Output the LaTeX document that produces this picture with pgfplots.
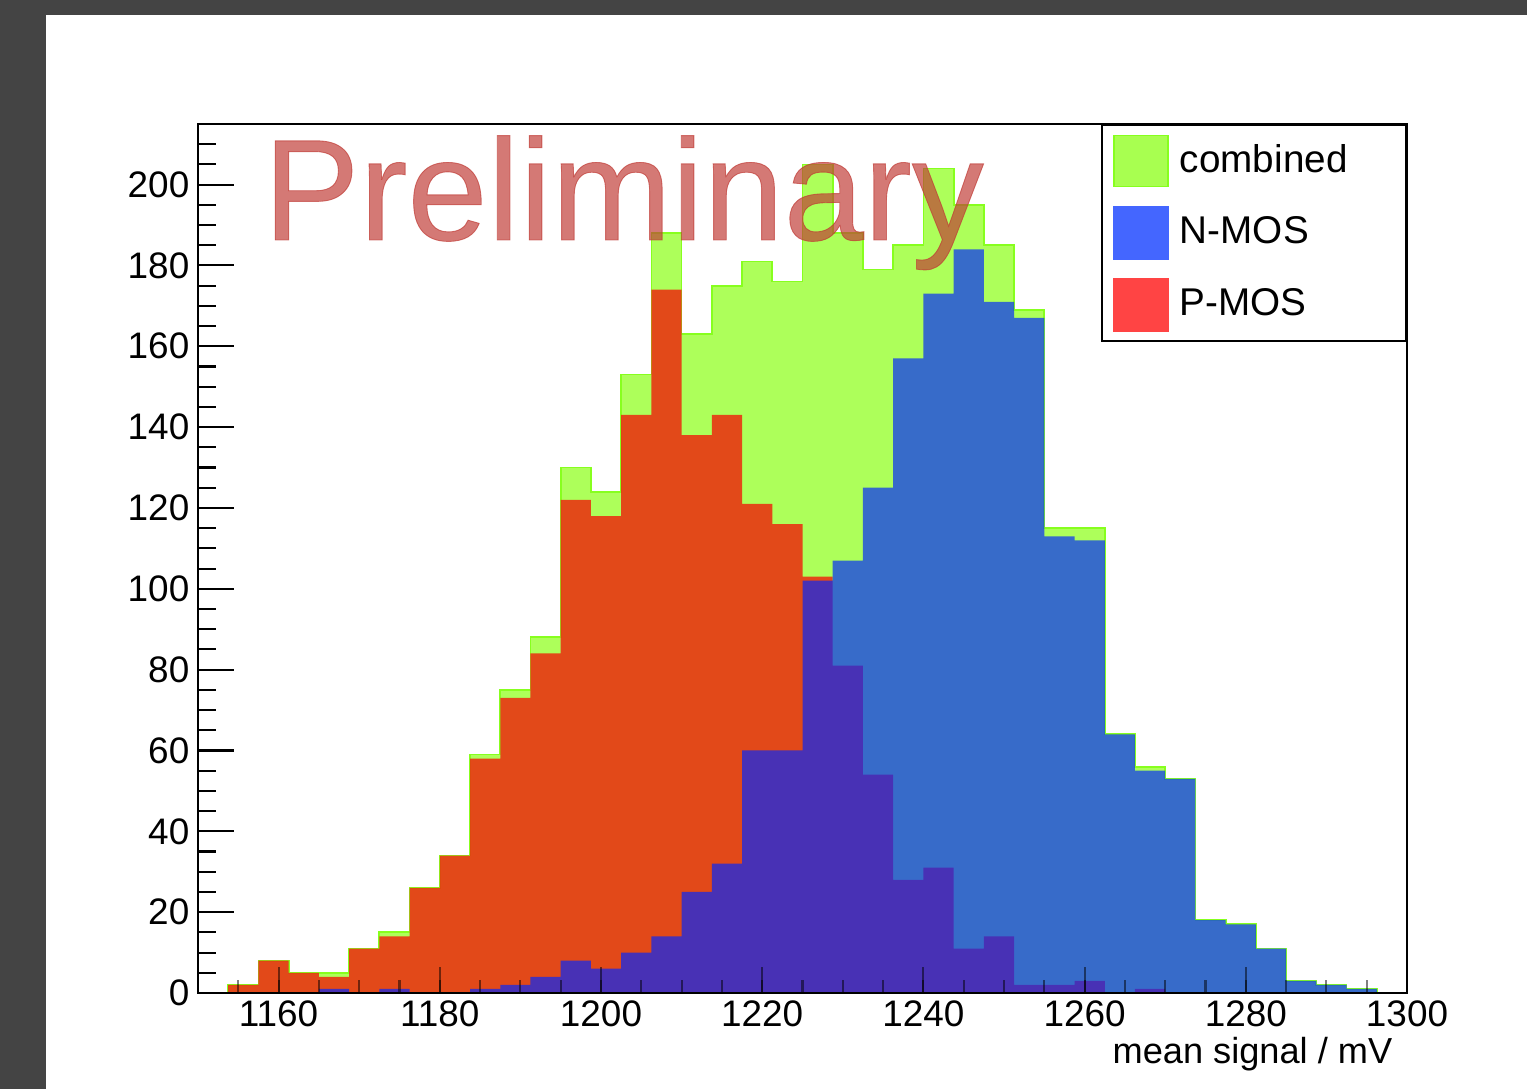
\documentclass[border=0pt]{standalone}
\usepackage{pgfplots}
\pgfplotsset{compat=1.18}
\usepackage{pgfplotstable}
\usepackage{fontspec}
\setmainfont{Liberation Sans}
\newfontfamily\markfont[FakeBold=0.6]{Liberation Sans}

\definecolor{bgdark}{RGB}{68,68,68}
\definecolor{combfill}{RGB}{173,255,90}
\definecolor{combedge}{RGB}{135,255,30}
\definecolor{pfill}{RGB}{236,42,14}
\definecolor{nfill}{RGB}{0,38,255}
\definecolor{legcomb}{RGB}{168,255,80}
\definecolor{legn}{RGB}{68,102,255}
\definecolor{legp}{RGB}{255,68,68}
\definecolor{prelim}{RGB}{192,58,52}

% bin left edges (3.75 mV bins), entries per bin
\pgfplotstableread{
x        comb pmos nmos
1150.00  0    0    0
1153.75  2    2    0
1157.50  8    8    0
1161.25  5    5    0
1165.00  5    4    1
1168.75  11   11   0
1172.50  15   14   1
1176.25  26   26   0
1180.00  34   34   0
1183.75  59   58   1
1187.50  75   73   2
1191.25  88   84   4
1195.00  130  122  8
1198.75  124  118  6
1202.50  153  143  10
1206.25  188  174  14
1210.00  163  138  25
1213.75  175  143  32
1217.50  181  121  60
1221.25  176  116  60
1225.00  205  103  102
1228.75  188  81   107
1232.50  179  54   125
1236.25  185  28   157
1240.00  204  31   173
1243.75  195  11   184
1247.50  185  14   171
1251.25  169  2    167
1255.00  115  2    113
1258.75  115  3    112
1262.50  64   0    64
1266.25  56   1    55
1270.00  53   0    53
1273.75  18   0    18
1277.50  17   0    17
1281.25  11   0    11
1285.00  3    0    3
1288.75  2    0    2
1292.50  1    0    1
1296.25  0    0    0
1300.00  0    0    0
}\histdata

\begin{document}
\begin{tikzpicture}
\path[use as bounding box] (0,0) rectangle (15.27,10.89);
\fill[bgdark] (0,0) rectangle (15.27,10.89);
\fill[white] (0.46,0) rectangle (15.27,10.74);
\begin{axis}[
  at={(1.98cm,0.96cm)}, anchor=south west,
  scale only axis, width=12.09cm, height=8.69cm,
  xmin=1150, xmax=1300, ymin=0, ymax=215,
  axis on top,
  xtick={1160,1180,...,1300},
  ytick={0,20,...,200},
  minor xtick={1150,1155,...,1300},
  minor ytick={0,5,...,215},
  tick align=inside,
  xtick pos=bottom, ytick pos=left,
  major tick length=0.36cm, minor tick length=0.18cm,
  every tick/.style={black, line width=0.6pt},
  xtick style={/pgfplots/major tick length=0.26cm, /pgfplots/minor tick length=0.13cm, draw opacity=0.5},
  axis line style={line width=0.75pt},
  /pgf/number format/1000 sep={},
  /pgf/number format/assume math mode=true,
  ticklabel style={font=\fontsize{10.5}{12}\selectfont},
  yticklabel style={inner sep=0pt, xshift=-0.08cm},
  xticklabel style={inner sep=0pt, yshift=-0.07cm},
  xlabel={mean signal / mV},
  xlabel style={at={(rel axis cs:1,0)}, anchor=north east, inner sep=0pt,
    xshift=-0.14cm, yshift=-0.44cm, font=\fontsize{10.3}{12}\selectfont},
  legend style={at={(rel axis cs:1,1)}, anchor=north east, draw=black,
    line width=0.6pt, fill=white, inner xsep=0.11cm, inner ysep=0cm,
    row sep=0pt, column sep=0.11cm,
    nodes={inner sep=0pt, minimum height=0.72cm, font=\fontsize{11}{13}\selectfont}},
  legend cell align=left,
]
\addplot[const plot mark left, fill=combfill, draw=combedge, line width=0.5pt, forget plot]
  table[x=x, y=comb] {\histdata} \closedcycle;
\addplot[const plot mark left, fill=pfill, fill opacity=0.85, draw=none, forget plot]
  table[x=x, y=pmos] {\histdata} \closedcycle;
\addplot[const plot mark left, fill=nfill, fill opacity=0.68, draw=none, forget plot]
  table[x=x, y=nmos] {\histdata} \closedcycle;

\addlegendimage{legend image code/.code={\fill[legcomb, draw=combedge, line width=0.4pt] (0cm,-0.255cm) rectangle (0.54cm,0.255cm);}}
\addlegendentry{\makebox[2.15cm][l]{combined}}
\addlegendimage{legend image code/.code={\fill[legn] (0cm,-0.255cm) rectangle (0.54cm,0.255cm);}}
\addlegendentry{\makebox[2.15cm][l]{N-MOS}}
\addlegendimage{legend image code/.code={\fill[legp] (0cm,-0.255cm) rectangle (0.54cm,0.255cm);}}
\addlegendentry{\makebox[2.15cm][l]{P-MOS}}

% watermark
\node[anchor=base west, inner sep=0pt, text=prelim, text opacity=0.68,
  font=\markfont\fontsize{41}{49}\selectfont] at (rel axis cs:0.0535,0.8665) {Preliminary};
\end{axis}
\end{tikzpicture}
\end{document}
